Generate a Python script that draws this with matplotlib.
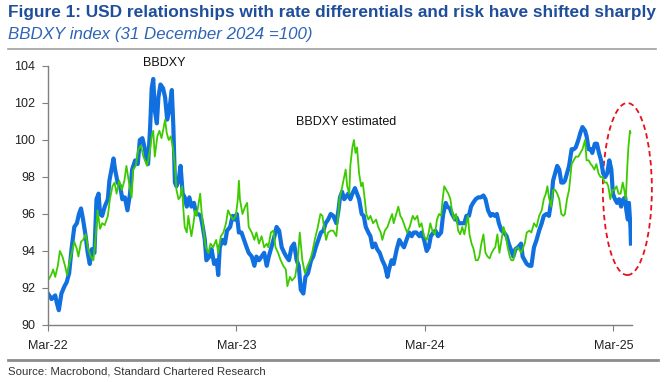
import numpy as np
import pandas as pd
import matplotlib
matplotlib.use('Agg')
import matplotlib.pyplot as plt
import matplotlib.dates as mdates
from matplotlib.patches import Ellipse
from matplotlib.lines import Line2D

plt.rcParams['font.family'] = ['Liberation Sans', 'DejaVu Sans']

# data: days since 1 Mar 2022 and index level
start = pd.Timestamp('2022-03-01')

blue_days = [0, 7, 14, 17, 21, 26, 32, 36, 41, 46, 51, 56, 60, 64, 68, 73, 77, 81, 85, 90,
             94, 98, 101, 105, 110, 116, 119, 123, 127, 130, 135, 140, 144, 149, 154, 159, 163, 169, 174, 178,
             183, 188,
             191, 194, 198, 201, 204, 207, 211, 214, 218, 223, 227, 231, 235, 240, 243, 246, 249, 253, 257, 261,
             265, 269, 274, 278, 283, 287, 291, 296, 300, 304, 307, 313, 317, 322, 327, 330, 333, 338, 343, 347,
             353, 358, 362, 366, 370,
             375, 380, 385, 389, 395, 400, 404, 409, 414, 419, 424, 428, 433, 439, 443, 448, 453, 458, 462, 467,
             472, 477, 482, 486, 490, 495, 499, 504, 510, 514, 519, 524, 529, 534, 538, 543, 548, 553,
             559, 563, 566, 570, 574, 577, 582, 586, 590, 595, 599, 603, 608, 612, 616, 621, 625, 629, 634, 638,
             643, 648, 653, 658, 661, 666, 670, 676, 681, 685, 690, 695, 700, 705, 709, 714, 720, 724, 729, 734,
             738,
             742, 747, 751, 756, 762, 766, 771, 774, 779, 783, 789, 792, 796, 802, 807, 811, 816, 820, 824, 829,
             834, 839, 844, 848, 853, 858, 862, 866, 870, 874, 879, 884, 889, 893, 897, 902, 906, 911, 917, 920,
             924,
             928, 933, 937, 942, 947, 952, 957, 961, 966, 971, 976, 979, 983, 987, 991, 995, 999, 1002, 1006, 1010,
             1015, 1019, 1023, 1028, 1032, 1036, 1041, 1044, 1048, 1052, 1055, 1060, 1064, 1068, 1072, 1076, 1080,
             1084, 1088, 1092, 1095, 1099, 1103, 1107, 1111, 1115, 1119, 1121, 1124, 1126, 1129, 1130]
blue_vals = [91.7, 91.4, 91.6, 91.2, 90.8, 91.7, 92.1, 92.3, 92.8, 94.2, 95.3, 95.5, 96.0, 96.3, 95.7, 94.8,
             93.9, 93.3, 94.1, 93.9, 96.8, 97.1, 96.0, 95.9, 96.4, 96.8, 97.8, 98.4, 99.0, 98.4, 97.7, 97.5,
             96.8, 96.9, 96.2, 97.1, 98.4, 98.9, 98.7, 100.0, 100.1, 99.5,
             98.9, 98.7, 100.7, 102.8, 103.3, 101.6, 100.9, 102.3, 103.0, 102.8, 102.3, 101.1, 101.6, 102.7,
             100.7, 97.7, 97.5, 97.8, 98.6, 97.1, 96.9, 96.4, 96.9, 96.4, 96.6, 96.0, 96.0, 95.9, 95.3, 94.6,
             93.5, 93.7, 94.1, 93.3, 93.5, 92.7, 94.2, 94.6, 94.4, 95.1, 95.3, 95.9, 95.7, 96.0, 95.0,
             95.0, 94.6, 94.2, 93.9, 93.7, 93.2, 93.7, 93.5, 93.7, 93.9, 93.2, 93.7, 94.2, 94.8, 95.3, 95.1,
             94.2, 93.9, 93.7, 93.5, 94.2, 94.4, 93.5, 93.2, 91.9, 91.7, 92.6, 92.8, 93.5, 93.7, 94.2, 94.6,
             95.0, 95.1, 95.5, 95.7, 96.0, 95.9,
             95.5, 96.2, 96.9, 97.2, 96.8, 96.9, 97.1, 96.8, 97.1, 97.4, 97.1, 96.8, 96.0, 95.9, 95.3, 95.0,
             94.8, 94.2, 94.4, 94.1, 93.9, 93.5, 93.2, 92.6, 93.0, 93.5, 93.3, 94.1, 94.6, 94.4, 94.2, 94.6,
             95.0, 94.8, 95.0, 95.0, 94.8, 95.0, 94.6, 94.0, 94.2,
             94.8, 95.0, 95.1, 94.8, 95.0, 96.0, 96.6, 96.4, 96.3, 96.0, 95.7, 95.8, 95.5, 95.5, 95.5, 95.9,
             95.9, 96.4, 96.6, 96.8, 96.9, 96.9, 97.0, 96.8, 96.2, 95.9, 96.0, 95.9, 96.0, 95.5, 95.1, 95.0,
             94.8, 94.4, 94.1, 93.7, 94.1, 94.2, 94.4, 93.7, 93.5,
             93.3, 93.2, 93.2, 94.2, 94.6, 95.1, 95.5, 95.9, 96.0, 95.9, 96.8, 97.8, 98.2, 98.6, 98.4, 97.7,
             97.7, 97.8, 98.2, 98.6, 99.5, 99.5, 99.6, 100.0, 100.4, 100.7, 100.5, 100.2, 99.5, 99.5, 99.3,
             99.8, 99.8, 99.3, 98.9, 98.2, 98.0, 98.2, 98.9, 98.4, 97.1, 96.8, 96.6, 96.8, 96.4, 96.8, 96.9,
             96.2, 95.7, 96.6, 95.3, 94.4]

green_days = [0, 6, 10, 14, 19, 23, 28, 33, 37, 41, 46, 51, 56, 59, 64, 68, 73, 78, 83, 88,
              92, 96, 101, 105, 110, 116, 120, 125, 129, 133, 138, 143, 148, 152, 157, 162, 165, 170, 175, 180,
              185, 188,
              192, 198, 201, 204, 207, 212, 216, 220, 223, 227, 230, 234, 238, 242, 246, 249, 253, 256, 260, 262,
              265, 269, 272, 275, 278, 282, 285, 288, 291, 295, 298, 302, 306, 311, 315, 320, 326, 330, 335, 340,
              345, 349, 354, 359, 364, 368, 370,
              372, 377, 382, 386, 389, 395, 400, 404, 409, 414, 419, 424, 427, 432, 437, 441, 446, 451, 456, 461,
              464, 469, 473, 479, 484, 488, 493, 498, 503, 508, 512, 517, 523, 528, 532, 535, 539, 543, 548, 553,
              559, 565, 569, 574, 577, 580, 584, 586, 590, 593, 596, 599, 603, 607, 610, 614, 617, 621, 625, 630,
              636, 640, 645, 648, 653, 658, 663, 667, 670, 674, 679, 683, 687, 692, 696, 701, 707, 711, 716, 720,
              724, 729, 734, 738,
              741, 745, 750, 754, 758, 762, 765, 768, 772, 776, 780, 783, 787, 791, 795, 799, 803, 807, 811, 814,
              817, 821, 825, 829, 833, 836, 840, 844, 848, 852, 856, 860, 864, 867, 871, 875, 879, 883, 887, 891,
              895, 898, 902, 906, 911, 917, 920, 924,
              928, 933, 937, 942, 947, 952, 957, 961, 965, 968, 971, 975, 979, 983, 987, 991, 995, 999, 1002, 1006,
              1010, 1015, 1019, 1023, 1028, 1032, 1036, 1041, 1044, 1048, 1052, 1055, 1059, 1063, 1067, 1071, 1075,
              1079, 1083, 1086, 1090, 1094, 1098, 1102, 1106, 1110, 1114, 1117, 1120, 1123, 1125, 1128, 1129]
green_vals = [92.4, 92.7, 93.0, 92.6, 93.2, 94.0, 93.7, 93.2, 92.7, 93.3, 93.9, 94.5, 94.1, 93.7, 94.5, 94.6,
              94.9, 94.1, 93.7, 93.5, 94.6, 96.2, 95.2, 95.5, 95.4, 95.9, 96.8, 97.5, 97.7, 97.1, 97.8, 97.3,
              97.8, 98.6, 97.7, 96.9, 98.4, 98.6, 99.5, 99.7, 99.1, 98.9,
              98.6, 99.5, 100.2, 100.5, 99.1, 100.2, 100.5, 100.1, 100.5, 101.1, 100.4, 100.0, 100.2, 99.6, 98.6,
              97.3, 96.8, 96.9, 97.5, 96.4, 95.3, 95.0, 95.9, 95.3, 94.8, 95.5, 96.2, 95.9, 96.4, 97.1, 96.0,
              95.0, 94.2, 93.9, 94.4, 94.2, 94.6, 93.9, 94.8, 95.0, 95.5, 96.2, 95.9, 95.7, 95.9, 96.8, 97.8,
              96.8, 96.0, 96.4, 96.6, 95.3, 95.0, 94.6, 95.0, 94.4, 94.8, 94.2, 94.4, 94.2, 95.0, 95.1, 94.2,
              93.9, 93.5, 93.2, 93.0, 92.1, 92.6, 92.4, 92.6, 93.5, 95.0, 93.5, 92.8, 93.2, 93.5, 93.9, 94.6,
              95.3, 96.0, 95.9, 95.3, 94.6, 95.0, 95.1, 95.1,
              94.8, 96.8, 97.3, 98.0, 98.4, 97.5, 97.1, 98.6, 99.6, 100.0, 99.3, 99.6, 98.2, 97.5, 97.7, 96.8,
              96.0, 95.7, 95.9, 95.5, 95.7, 95.3, 95.0, 94.6, 95.1, 95.3, 95.7, 96.0, 95.5, 95.9, 96.4, 95.9,
              95.7, 95.3, 95.0, 95.3, 95.9, 95.7, 95.9, 95.3, 95.5, 94.8, 94.6, 95.0,
              95.5, 95.1, 94.9, 95.7, 96.0, 95.9, 96.8, 97.5, 97.3, 97.1, 96.8, 96.2, 95.7, 96.0, 95.1, 94.9,
              95.3, 94.9, 95.5, 95.9, 94.9, 94.4, 94.1, 93.5, 93.5, 93.7, 94.4, 94.9, 93.9, 93.7, 93.6, 93.9,
              94.1, 94.2, 94.9, 93.9, 94.6, 95.3, 94.9, 94.2, 93.7, 93.5, 93.5, 94.1, 94.2, 93.9, 94.1, 94.4,
              95.0, 95.1, 95.0, 95.5, 95.3, 95.9, 96.2, 96.8, 97.1, 97.5, 96.9, 96.4, 97.3, 97.3, 97.1, 96.8,
              96.0, 95.9, 96.0, 96.8, 97.3, 98.7, 98.9, 99.1, 99.1, 99.3, 99.5, 100.0, 98.9, 98.9, 98.7, 98.6,
              98.4, 98.7, 98.2, 98.0, 98.0, 97.7, 97.7, 97.5, 96.8, 97.3, 97.3, 97.5, 97.1, 97.1, 97.7, 97.3,
              96.8, 98.6, 99.6, 100.5, 100.4]

tick_dates = ['2022-03-01', '2023-03-01', '2024-03-01', '2025-03-01']

blue_dates = start + pd.to_timedelta(blue_days, unit='D')
green_dates = start + pd.to_timedelta(green_days, unit='D')

W, H = 664, 382
fig = plt.figure(figsize=(W / 100, H / 100), dpi=100)
ax = fig.add_axes([48 / W, 1 - 325 / H, (632 - 48) / W, (325 - 66) / H])

ax.plot(blue_dates, blue_vals, color='#1170E0', lw=3.0, solid_joinstyle='round')
ax.plot(green_dates, green_vals, color='#3DCB00', lw=1.3)

ax.set_ylim(90, 104)
ax.set_yticks(np.arange(90, 105, 2))
ax.set_xlim(start, start + pd.Timedelta(days=1132))
ax.set_xticks(pd.to_datetime(tick_dates))
ax.xaxis.set_major_formatter(mdates.DateFormatter('%b-%y'))
for s in ['top', 'right']:
    ax.spines[s].set_visible(False)
for s in ['left', 'bottom']:
    ax.spines[s].set_color('#7F7F7F')
    ax.spines[s].set_linewidth(1.0)
ax.tick_params(colors='#7F7F7F', labelcolor='#222222', labelsize=9, length=4, pad=5)
ax.tick_params(axis='x', pad=7)

# labels on the lines
ax.text(start + pd.Timedelta(days=225), 104.15, 'BBDXY', ha='center', va='center',
        fontsize=9, color='#111111', clip_on=False)
ax.text(start + pd.Timedelta(days=578), 100.95, 'BBDXY estimated', ha='center', va='center',
        fontsize=9, color='#111111')

# red dashed ring round the latest move
ell = Ellipse((mdates.date2num(start + pd.Timedelta(days=1123)), 97.35), width=95, height=9.3,
              fill=False, edgecolor='#E8101A', ls=(0, (3, 2)), lw=1.3, clip_on=False)
ax.add_patch(ell)

# title block
fig.text(8 / W, 1 - 12 / H, 'Figure 1: USD relationships with rate differentials and risk have shifted sharply',
         fontsize=12.4, weight='bold', color='#1F4E9B', va='center')
fig.text(8 / W, 1 - 34 / H, 'BBDXY index (31 December 2024 =100)', fontsize=12.2, style='italic',
         color='#2E64B4', va='center')
fig.add_artist(Line2D([8 / W, 656 / W], [1 - 49 / H] * 2, color='#A0A0A0', lw=1.2))
fig.add_artist(Line2D([8 / W, 658 / W], [1 - 360 / H] * 2, color='#8C8C8C', lw=2.0))
fig.text(8 / W, 1 - 372 / H, 'Source: Macrobond, Standard Chartered Research', fontsize=8.2,
         color='#333333', va='center')

fig.savefig('out.png', dpi=100)
